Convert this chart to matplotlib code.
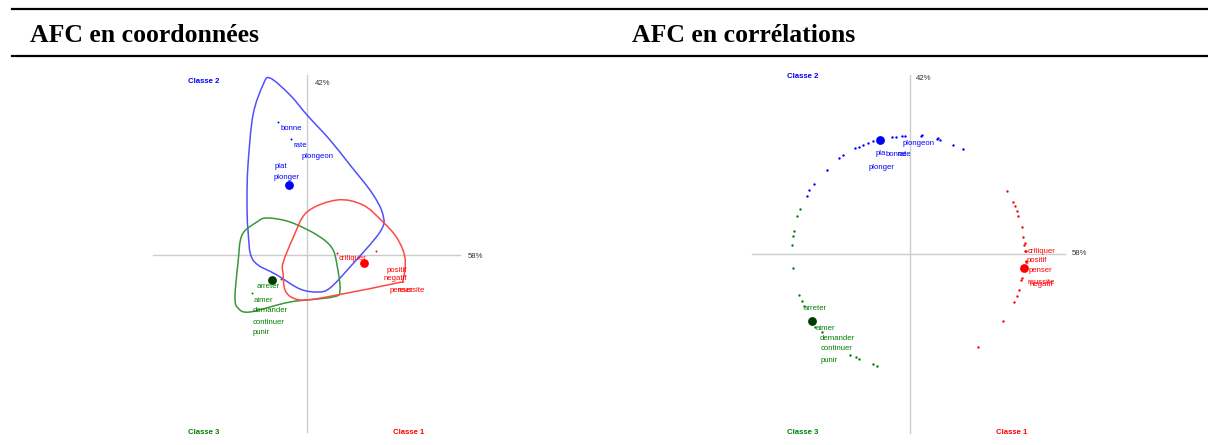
import numpy as np
import matplotlib
matplotlib.use("Agg")
import matplotlib.pyplot as plt
from matplotlib.path import Path
from matplotlib.patches import PathPatch
from matplotlib.lines import Line2D

W, H = 1208, 445

BLUE = "#0000ff"
RED = "#ff0000"
GREEN = "#008000"
DKGREEN = "#003c00"

# ---------------- Left panel: AFC en coordonnees ----------------
L_blue_x = [-0.29, -0.16]
L_blue_y = [1.33, 1.16]
L_blue_center = (-0.18, 0.70)
L_blue_words = ["bonne", "rate", "plongeon", "plat", "plonger"]
L_blue_wx = [-0.26, -0.14, -0.05, -0.32, -0.33]
L_blue_wy = [1.26, 1.09, 0.98, 0.88, 0.77]

L_red_x = [0.30, 0.69]
L_red_y = [0.02, 0.04]
L_red_center = (0.57, -0.08)
L_red_words = ["critiquer", "positif", "negatif", "penser", "reussite"]
L_red_wx = [0.32, 0.80, 0.77, 0.83, 0.90]
L_red_wy = [-0.04, -0.16, -0.24, -0.35, -0.35]

L_green_x = [-0.26, -0.55]
L_green_y = [-0.24, -0.38]
L_green_center = (-0.35, -0.25)
L_green_words = ["arreter", "aimer", "demander", "continuer", "punir"]
L_green_wx = [-0.50, -0.53, -0.54, -0.54, -0.54]
L_green_wy = [-0.31, -0.46, -0.55, -0.67, -0.77]

# hull outlines
hull_blue_x = [-0.37, -0.17, 0.00, 0.23, 0.43, 0.65, 0.76, 0.73, 0.43, 0.23, 0.11, -0.07, -0.30, -0.54, -0.59, -0.60, -0.59, -0.54, -0.44]
hull_blue_y = [1.77, 1.60, 1.40, 1.15, 0.90, 0.62, 0.40, 0.23, -0.12, -0.33, -0.37, -0.34, -0.20, -0.05, 0.25, 0.55, 0.90, 1.40, 1.70]
hull_green_x = [-0.50, -0.40, -0.17, 0.10, 0.25, 0.30, 0.33, 0.26, -0.17, -0.57, -0.69, -0.72, -0.69, -0.65]
hull_green_y = [0.33, 0.37, 0.33, 0.20, 0.07, -0.10, -0.35, -0.42, -0.47, -0.57, -0.53, -0.42, -0.08, 0.20]
hull_red_x = [0.30, 0.56, 0.76, 0.90, 0.98, 0.96, 0.90, 0.30, 0.00, -0.14, -0.22, -0.24, -0.24, -0.14, 0.00]
hull_red_y = [0.55, 0.50, 0.33, 0.17, -0.03, -0.25, -0.28, -0.40, -0.45, -0.43, -0.35, -0.18, -0.08, 0.17, 0.43]

# ---------------- Right panel: AFC en correlations ----------------
R_blue_x = [-0.18, -0.14, -0.08, -0.05, 0.11, 0.12, 0.27, 0.28, 0.30, 0.43, 0.53,
            -0.37, -0.42, -0.47, -0.51, -0.55, -0.67, -0.71, -0.83, -0.96, -1.01, -1.03]
R_blue_y = [1.17, 1.17, 1.18, 1.18, 1.18, 1.19, 1.15, 1.16, 1.14, 1.09, 1.05,
            1.13, 1.11, 1.09, 1.07, 1.06, 0.99, 0.96, 0.84, 0.70, 0.64, 0.58]
R_blue_center = (-0.30, 1.14)
R_blue_words = ["plongeon", "pla", "bonne", "rate", "plonger"]
R_blue_wx = [-0.07, -0.34, -0.24, -0.13, -0.41]
R_blue_wy = [1.10, 1.00, 0.99, 0.99, 0.86]

R_green_x = [-1.10, -1.13, -1.16, -1.17, -1.18, -1.17, -1.11, -1.08, -1.06, -0.95, -0.88, -0.60, -0.54, -0.51, -0.37, -0.33]
R_green_y = [0.45, 0.38, 0.23, 0.18, 0.09, -0.14, -0.41, -0.47, -0.52, -0.73, -0.78, -1.01, -1.03, -1.05, -1.10, -1.12]
R_green_center = (-0.98, -0.67)
R_green_words = ["arreter", "aimer", "demander", "continuer", "punir"]
R_green_wx = [-1.06, -0.94, -0.90, -0.89, -0.89]
R_green_wy = [-0.55, -0.74, -0.84, -0.95, -1.06]

R_red_x = [0.97, 1.03, 1.05, 1.07, 1.08, 1.12, 1.13, 1.14, 1.15, 1.15, 1.16, 1.16,
           1.16, 1.12, 1.11, 1.09, 1.07, 1.04, 0.93, 0.68]
R_red_y = [0.63, 0.52, 0.48, 0.43, 0.38, 0.27, 0.17, 0.09, 0.11, 0.03, 0.03, -0.07,
           -0.08, -0.24, -0.26, -0.36, -0.42, -0.48, -0.67, -0.93]
R_red_center = (1.14, -0.14)
R_red_words = ["critiquer", "positif", "penser", "reussite", "negatif"]
R_red_wx = [1.18, 1.17, 1.19, 1.17, 1.20]
R_red_wy = [0.02, -0.07, -0.17, -0.28, -0.31]

LEFT_ORIGIN = (307, 255)
RIGHT_ORIGIN = (910, 254)


def closed_smooth_path(xs, ys):
    pts = np.column_stack([xs, ys])
    n = len(pts)
    verts = [pts[0]]
    codes = [Path.MOVETO]
    for i in range(n):
        p0 = pts[(i - 1) % n]
        p1 = pts[i]
        p2 = pts[(i + 1) % n]
        p3 = pts[(i + 2) % n]
        c1 = p1 + (p2 - p0) / 6.0
        c2 = p2 - (p3 - p1) / 6.0
        verts += [c1, c2, p2]
        codes += [Path.CURVE4] * 3
    return Path(verts, codes)


fig = plt.figure(figsize=(W / 100, H / 100), dpi=100)
fig.patch.set_facecolor("white")

def make_axes(x0, x1, y0, y1, origin):
    ax = fig.add_axes([x0 / W, 1 - y1 / H, (x1 - x0) / W, (y1 - y0) / H])
    ox, oy = origin
    ax.set_xlim((x0 - ox) / 100, (x1 - ox) / 100)
    ax.set_ylim((oy - y1) / 100, (oy - y0) / 100)
    ax.set_axis_off()
    return ax

TXT = dict(family="Liberation Sans", fontsize=5.6, va="center", ha="left")
CLS = dict(family="Liberation Sans", fontsize=5.6, fontweight="bold", va="center", ha="left")
GRAY = "#cccccc"

def axes_cross(ax, hx, vy):
    ax.plot(hx, [0, 0], color=GRAY, lw=1.0, zorder=1)
    ax.plot([0, 0], vy, color=GRAY, lw=1.0, zorder=1)

def put_words(ax, words, wx, wy, color):
    for w, x, y in zip(words, wx, wy):
        ax.text(x, y, w, color=color, zorder=5, **TXT)

# ----- Left
axL = make_axes(140, 500, 60, 445, LEFT_ORIGIN)
axes_cross(axL, [-1.54, 1.53], [1.80, -1.77])
for hx, hy, col in [(hull_blue_x, hull_blue_y, "#5050ff"),
                    (hull_green_x, hull_green_y, "#3c963c"),
                    (hull_red_x, hull_red_y, "#ff4848")]:
    axL.add_patch(PathPatch(closed_smooth_path(hx, hy), fill=False, edgecolor=col, lw=1.1, zorder=3))
axL.scatter(L_blue_x, L_blue_y, s=2, color=BLUE, zorder=4, linewidths=0)
axL.scatter(*L_blue_center, s=40, color=BLUE, zorder=4, linewidths=0)
axL.scatter(L_red_x, L_red_y, s=2, color=RED, zorder=4, linewidths=0)
axL.scatter(*L_red_center, s=40, color=RED, zorder=6, linewidths=0)
axL.scatter(L_green_x, L_green_y, s=2, color=GREEN, zorder=4, linewidths=0)
axL.scatter(*L_green_center, s=40, color=DKGREEN, zorder=4, linewidths=0)
put_words(axL, L_blue_words, L_blue_wx, L_blue_wy, BLUE)
put_words(axL, L_red_words, L_red_wx, L_red_wy, RED)
put_words(axL, L_green_words, L_green_wx, L_green_wy, GREEN)
axL.text(0.08, 1.71, "42%", color="#333333", **TXT)
axL.text(1.61, -0.01, "58%", color="#333333", **TXT)
axL.text(-1.19, 1.73, "Classe 2", color=BLUE, **CLS)
axL.text(-1.19, -1.77, "Classe 3", color=GREEN, **CLS)
axL.text(0.86, -1.77, "Classe 1", color=RED, **CLS)

# ----- Right
axR = make_axes(740, 1100, 60, 445, RIGHT_ORIGIN)
axes_cross(axR, [-1.58, 1.55], [1.79, -1.79])
axR.scatter(R_blue_x, R_blue_y, s=3, color=BLUE, zorder=4, linewidths=0)
axR.scatter(*R_blue_center, s=40, color=BLUE, zorder=4, linewidths=0)
axR.scatter(R_green_x, R_green_y, s=3, color=GREEN, zorder=4, linewidths=0)
axR.scatter(*R_green_center, s=40, color=DKGREEN, zorder=4, linewidths=0)
axR.scatter(R_red_x, R_red_y, s=3, color=RED, zorder=4, linewidths=0)
axR.scatter(*R_red_center, s=40, color=RED, zorder=4, linewidths=0)
put_words(axR, R_blue_words, R_blue_wx, R_blue_wy, BLUE)
put_words(axR, R_red_words, R_red_wx, R_red_wy, RED)
put_words(axR, R_green_words, R_green_wx, R_green_wy, GREEN)
axR.text(0.06, 1.75, "42%", color="#333333", **TXT)
axR.text(1.62, 0.00, "58%", color="#333333", **TXT)
axR.text(-1.23, 1.77, "Classe 2", color=BLUE, **CLS)
axR.text(-1.23, -1.78, "Classe 3", color=GREEN, **CLS)
axR.text(0.86, -1.78, "Classe 1", color=RED, **CLS)

# ----- table header
HDR = dict(family="Liberation Serif", fontweight="bold", fontsize=18.5, va="center", ha="left", color="black")
fig.text(30 / W, 1 - 35 / H, "AFC en coordonnées", **HDR)
fig.text(632 / W, 1 - 35 / H, "AFC en corrélations", **HDR)
fig.add_artist(Line2D([12 / W, 1.0], [1 - 8.5 / H, 1 - 8.5 / H], color="black", lw=1.6))
fig.add_artist(Line2D([12 / W, 1.0], [1 - 56 / H, 1 - 56 / H], color="black", lw=1.6))

fig.savefig("out.png", dpi=100, facecolor="white")
